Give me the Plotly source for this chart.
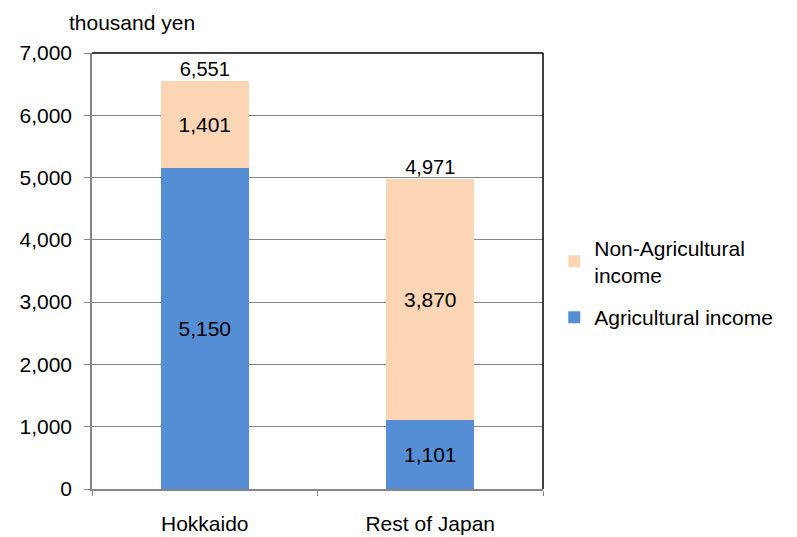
import plotly.graph_objects as go

regions = ["Hokkaido", "Rest of Japan"]
agricultural = [5150, 1101]
non_agricultural = [1401, 3870]
totals = [6551, 4971]
y_ticks = [0, 1000, 2000, 3000, 4000, 5000, 6000, 7000]

FONT = "Liberation Sans, Arial, sans-serif"
BLUE = "#558ED5"
PEACH = "#FCD5B5"
GRID = "#868686"
SIZE = 21

fig = go.Figure()
fig.add_trace(go.Bar(
    x=regions, y=agricultural, name="Agricultural income",
    legendgroup="agri", legendrank=2,
    marker=dict(color=BLUE, line=dict(width=0)), width=0.39,
    text=[f"{v:,}" for v in agricultural], textposition="inside",
    insidetextanchor="middle", textangle=0,
    textfont=dict(family=FONT, size=SIZE, color="black"),
))
fig.add_trace(go.Bar(
    x=regions, y=non_agricultural, name="Non-Agricultural<br>income",
    legendgroup="nonagri", legendrank=1,
    marker=dict(color=PEACH, line=dict(width=0)), width=0.39,
    text=[f"{v:,}" for v in non_agricultural], textposition="inside",
    insidetextanchor="middle", textangle=0,
    textfont=dict(family=FONT, size=SIZE, color="black"),
))
fig.add_trace(go.Scatter(
    x=regions, y=totals, mode="text", showlegend=False, hoverinfo="skip",
    text=[f"{v:,}" for v in totals], textposition="top center",
    textfont=dict(family=FONT, size=20, color="black"),
))

fig.update_layout(
    barmode="stack",
    width=797, height=537,
    margin=dict(l=92, r=254, t=53, b=48),
    paper_bgcolor="white", plot_bgcolor="white",
    font=dict(family=FONT, size=SIZE, color="black"),
    legend=dict(
        x=1.025, y=0.6, xanchor="left", yanchor="top",
        traceorder="grouped", font=dict(size=SIZE),
        itemsizing="constant", tracegroupgap=12,
    ),
    annotations=[dict(
        text="thousand yen", xref="paper", yref="paper",
        x=-0.055, y=1.04, xanchor="left", yanchor="bottom",
        showarrow=False, font=dict(family=FONT, size=SIZE),
    )],
    shapes=[
        dict(type="line", xref="paper", yref="paper", x0=0, x1=1, y0=1, y1=1,
             line=dict(color="black", width=1.5)),
        dict(type="line", xref="paper", yref="paper", x0=1, x1=1, y0=0, y1=1,
             line=dict(color="black", width=1.5)),
    ],
)
fig.update_xaxes(
    type="category", tickson="boundaries", ticks="outside", ticklen=5,
    tickcolor=GRID, showline=True, linecolor=GRID, linewidth=1.5,
    showgrid=False, ticklabelstandoff=15, tickfont=dict(size=SIZE),
    automargin=False,
)
fig.update_yaxes(
    range=[0, 7000], tickvals=y_ticks, tickformat=",",
    ticks="outside", ticklen=6, tickcolor=GRID,
    showline=True, linecolor=GRID, linewidth=1.5,
    showgrid=True, gridcolor=GRID, gridwidth=1,
    zeroline=False, ticklabelstandoff=8, tickfont=dict(size=SIZE),
    automargin=False,
)

fig.write_html("out.html")
